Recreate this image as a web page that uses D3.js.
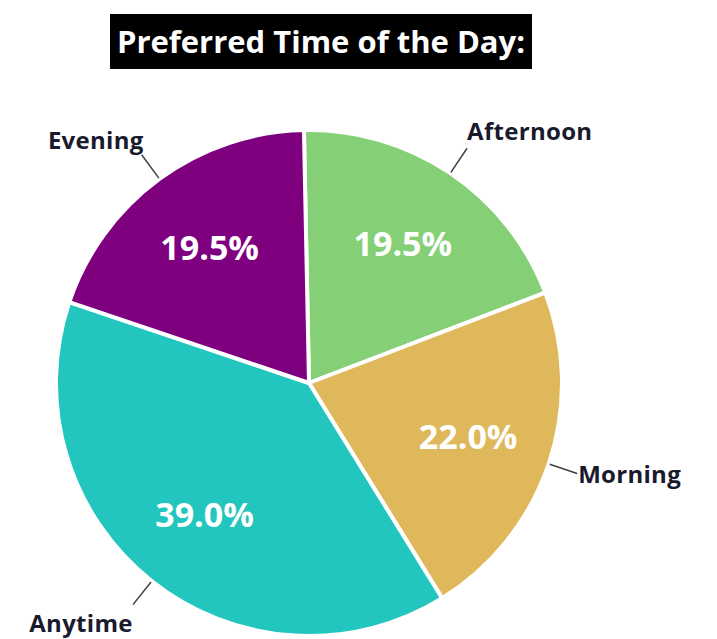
<!DOCTYPE html>
<html>
<head>
<meta charset="utf-8">
<script src="https://cdn.jsdelivr.net/npm/d3@7"></script>
<style>
  body { margin: 0; background: #fff; }
  text { font-family: "Open Sans", sans-serif; font-weight: 700; }
</style>
</head>
<body>
<div id="chart"></div>
<script>
// data, clockwise from the top
var categories = ["Afternoon", "Morning", "Anytime", "Evening"];
var shares = [19.5, 22.0, 39.0, 19.5];
var colors = ["#85d077", "#e0b85c", "#23c6be", "#7f007f"];
var chartTitle = "Preferred Time of the Day:";

var width = 717
var height = 639
var cx = 309, cy = 383;
var radius = 253;

var svg = d3.select("#chart")
            .append("svg")
            .attr("width", width)
            .attr("height", height);

// title in a black box
svg.append("rect")
    .attr("x", 110)
    .attr("y", 14)
    .attr("width", 422)
    .attr("height", 55)
    .style("fill", "#000");

svg.append("text")
    .attr("x", 321)
    .attr("y", 53)
    .attr("text-anchor", "middle")
    .style("font-size", "31px")
    .style("fill", "#fff")
    .text(chartTitle);

var pie = d3.pie()
    .sort(null)
    .startAngle(-0.02)
    .endAngle(2 * Math.PI - 0.02);

var arcs = pie(shares);

var arc = d3.arc().innerRadius(0).outerRadius(radius);
var pctArc = d3.arc().innerRadius(168).outerRadius(168);

var g = svg.append("g")
    .attr("transform", "translate(" + cx + "," + cy + ")");

g.selectAll("path")
    .data(arcs)
  .enter().append("path")
    .attr("d", arc)
    .style("fill", function(d, i) { return colors[i]; })
    .style("stroke", "#fff")
    .style("stroke-width", 4)
    .style("stroke-linejoin", "round");

// percentages inside the slices
g.selectAll(".pct")
    .data(arcs)
  .enter().append("text")
    .attr("class", "pct")
    .attr("transform", function(d) { return "translate(" + pctArc.centroid(d) + ")"; })
    .attr("text-anchor", "middle")
    .attr("dy", "0.36em")
    .style("font-size", "34px")
    .style("fill", "#fff")
    .text(function(d) { return d3.format(".1f")(d.data) + "%"; });

// leader lines and category labels
function polar(a, r) {
    return [r * Math.sin(a), -r * Math.cos(a)];
}

// label offsets from the outer end of each leader line
var labelShift = [[0, -17, "start"], [1, 1, "start"], [-52, 19, "middle"], [2, -14, "end"]];

arcs.forEach(function(d, i) {
    var mid = (d.startAngle + d.endAngle) / 2;
    var p0 = polar(mid, radius + 1);
    var p1 = polar(mid, radius + 30);
    g.append("line")
        .attr("x1", p0[0]).attr("y1", p0[1])
        .attr("x2", p1[0]).attr("y2", p1[1])
        .style("stroke", "#404040")
        .style("stroke-width", 1.5);

    var s = labelShift[i];
    g.append("text")
        .attr("x", p1[0] + s[0])
        .attr("y", p1[1] + s[1])
        .attr("dy", "0.36em")
        .attr("text-anchor", s[2])
        .style("font-size", "24px")
        .style("letter-spacing", "0.3px")
        .style("fill", "#1a1a2e")
        .text(categories[i]);
});
</script>
</body>
</html>
